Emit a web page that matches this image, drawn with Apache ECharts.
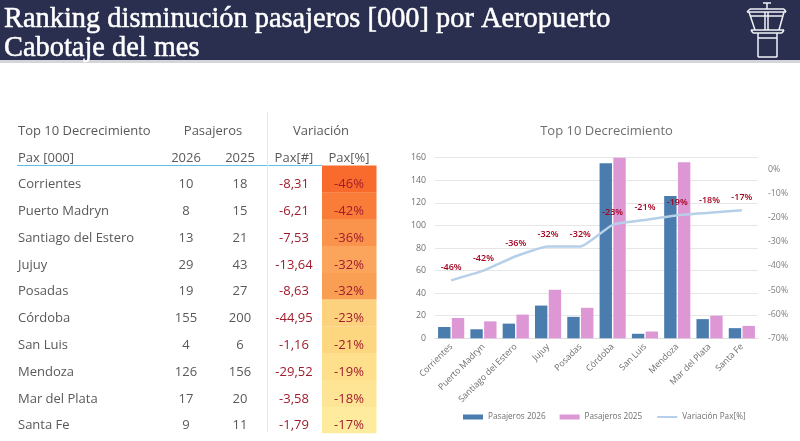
<!DOCTYPE html>
<html><head><meta charset="utf-8">
<style>html,body{margin:0;padding:0;background:#fff}#c{width:800px;height:441px}</style>
<script src="https://cdn.jsdelivr.net/npm/echarts@6/dist/echarts.min.js"></script>
</head><body><div id="c"></div>
<script>
const airports=['Corrientes','Puerto Madryn','Santiago del Estero','Jujuy','Posadas','Córdoba','San Luis','Mendoza','Mar del Plata','Santa Fe'];
const pax2026=[10,8,13,29,19,155,4,126,17,9];
const pax2025=[18,15,21,43,27,200,6,156,20,11];
const diffPax=[-8.31,-6.21,-7.53,-13.64,-8.63,-44.95,-1.16,-29.52,-3.58,-1.79];
const variationPct=[-46,-42,-36,-32,-32,-23,-21,-19,-18,-17];
const cellColors=['#f96b2c','#f97c38','#fa934c','#fba55c','#f99f54','#fdd27e','#fdd680','#fee08c','#fee596','#ffeb9e'];
const titleLines=['Ranking disminución pasajeros [000] por Aeropuerto','Cabotaje del mes'];

const sans='"Open Sans",sans-serif', grey='#595959', red='#a01c2c';
const g=[];
const txt=(x,y,t,o={})=>g.push({type:'text',silent:true,z:o.z||5,x,y,style:{text:t,fill:o.fill||grey,font:(o.size||13)+'px '+(o.family||sans),align:o.align||'center',verticalAlign:'middle',stroke:o.stroke||null,lineWidth:o.stroke?0.5:0}});
const ln=(x1,y1,x2,y2,c,w)=>g.push({type:'line',silent:true,z:6,shape:{x1,y1,x2,y2},style:{stroke:c,lineWidth:w,fill:null}});

// header band
g.push({type:'rect',silent:true,z:1,shape:{x:0,y:0,width:800,height:60},style:{fill:'#2a2f50'}});
g.push({type:'rect',silent:true,z:1,shape:{x:0,y:60,width:800,height:3},style:{fill:'#d4d5da'}});
titleLines.forEach((t,i)=>txt(4,20+i*28.5,t,{size:28.4,family:'"Liberation Serif",serif',fill:'#fff',align:'left',stroke:'#fff'}));
// tower icon
const W='#f2f3f6';
[[763,3,771,3],[767,3,767,9],[750,9,784,9],[747,12,786,12],[750,9,747,12],[784,9,786,12],
 [749,12,755,30],[784,12,779,30],[765,12,765,30],[768,12,768,30],[751,16,782,16],
 [751,30,784,30],[753,33,782,33],[751,30,753,33],[784,30,782,33],
 [758,33,758,57],[777,33,777,57],[758,57,777,57],[758,38,777,38]].forEach(a=>ln(a[0],a[1],a[2],a[3],W,1.5));

// table
const colX=[186,240,294,349], rowY=i=>183.5+i*26.8, textDy=1;
txt(18,130+textDy,'Top 10 Decrecimiento',{align:'left'});
txt(213,130+textDy,'Pasajeros');
txt(321,130+textDy,'Variación');
txt(18,157+textDy,'Pax [000]',{align:'left'});
['2026','2025','Pax[#]','Pax[%]'].forEach((t,i)=>txt(colX[i],157+textDy,t));
ln(17,165.5,322,165.5,'#5fc0e0',1);
ln(267.5,112,267.5,432,'#e4e6e8',1);
airports.forEach((a,i)=>{
  const y=rowY(i);
  g.push({type:'rect',silent:true,z:2,shape:{x:322,y:y-18,width:54.5,height:i==9?26.5:27},style:{fill:cellColors[i]}});
  txt(18,y+textDy,a,{align:'left'});
  txt(colX[0],y+textDy,String(pax2026[i]));
  txt(colX[1],y+textDy,String(pax2025[i]));
  txt(colX[2],y+textDy,diffPax[i].toFixed(2).replace('.',','),{fill:red});
  txt(colX[3],y+textDy,variationPct[i]+'%',{fill:red});
});

const chart=echarts.init(document.getElementById('c'));
chart.setOption({
  animation:false,
  textStyle:{fontFamily:sans},
  title:{text:'Top 10 Decrecimiento',left:601.5,top:119.5,textAlign:'center',textStyle:{fontSize:13,fontWeight:'normal',color:'#6f6f6f',fontFamily:sans}},
  grid:{left:435,right:42,top:157.7,bottom:102.7,containLabel:false},
  legend:{bottom:15,left:458,itemWidth:20,itemHeight:5,itemGap:14,textStyle:{fontSize:8.2,color:'#6f6f6f',fontFamily:sans},
    data:[{name:'Pasajeros 2026',icon:'rect'},{name:'Pasajeros 2025',icon:'rect'},{name:'Variación Pax[%]',itemStyle:{opacity:0}}]},
  xAxis:{type:'category',data:airports,axisTick:{show:false},axisLine:{lineStyle:{color:'#dedede'}},
    axisLabel:{rotate:45,interval:0,fontSize:8.8,color:'#6f6f6f',margin:7}},
  yAxis:[
   {type:'value',min:0,max:160,interval:20,axisLine:{show:false},axisTick:{show:false},
    axisLabel:{fontSize:8.8,color:'#6f6f6f',margin:9},splitLine:{lineStyle:{color:'#e6e6e6'}}},
   {type:'value',min:-70,max:4.8,interval:10,axisLine:{show:false},axisTick:{show:false},splitLine:{show:false},
    axisLabel:{fontSize:8.8,color:'#7f7f7f',margin:10,showMaxLabel:false,formatter:v=>Number.isInteger(v)?v+'%':''}}
  ],
  series:[
   {name:'Pasajeros 2026',type:'bar',data:pax2026,barWidth:12.4,barGap:'11%',itemStyle:{color:'#4a7cae'}},
   {name:'Pasajeros 2025',type:'bar',data:pax2025,barWidth:12.4,itemStyle:{color:'#dd97d5'}},
   {name:'Variación Pax[%]',type:'line',yAxisIndex:1,data:variationPct,smooth:0.15,showSymbol:true,symbol:'circle',symbolSize:0,
    lineStyle:{color:'#b5d0e8',width:2.5},itemStyle:{color:'#b5d0e8'},z:4,
    label:{show:true,position:'top',distance:8,formatter:p=>p.value+'%',fontSize:9,fontWeight:600,color:'#a3001e'}}
  ],
  graphic:{elements:g}
});
</script></body></html>
